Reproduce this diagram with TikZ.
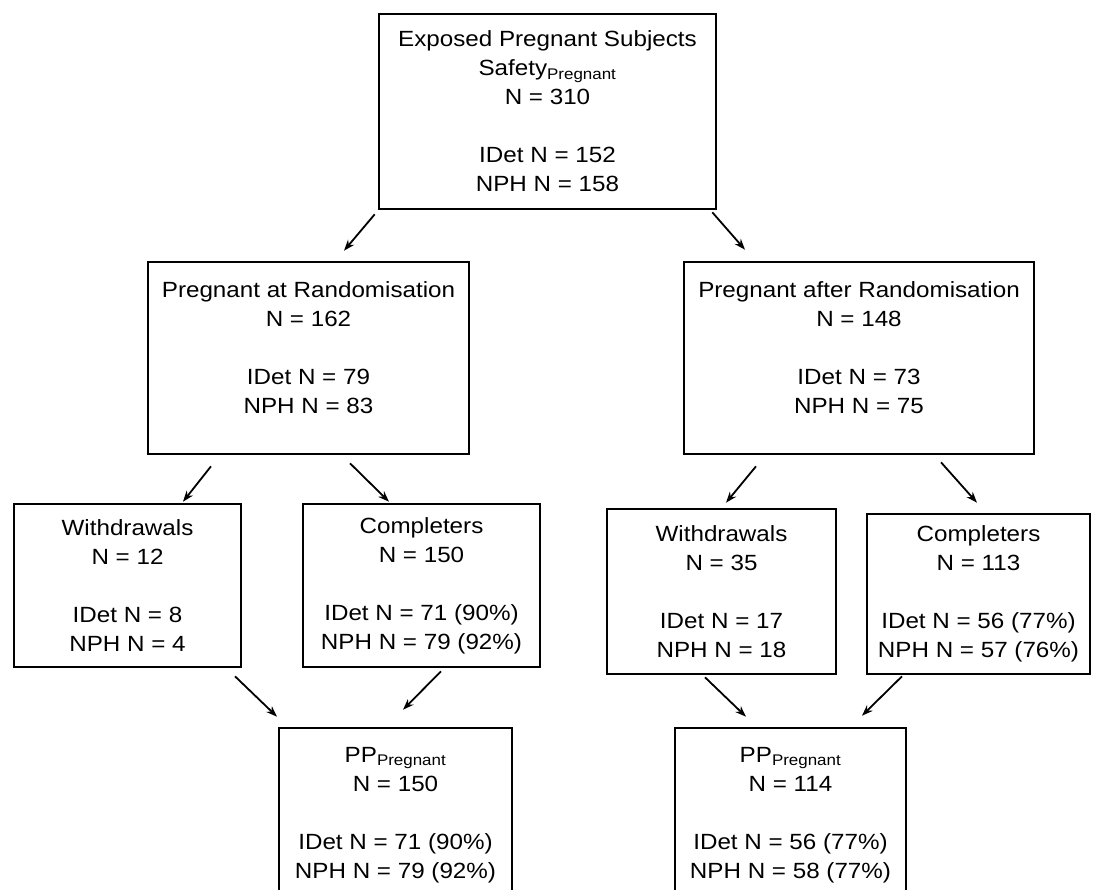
\documentclass[tikz,border=0pt]{standalone}
\usepackage{fontspec}
\setmainfont[FakeStretch=1.1]{Liberation Sans}
\usetikzlibrary{arrows.meta}

\begin{document}
\begin{tikzpicture}[x=1pt,y=-1pt,
box/.style={draw,line width=2.6pt,align=center,inner sep=0pt,font=\fontsize{22}{29}\selectfont},
arr/.style={-{Stealth[length=11pt,width=8pt]},line width=1.8pt}]
\useasboundingbox(0,0)rectangle(1097,889);
\clip(0,0)rectangle(1097,889);
% boxes
\node[box,minimum width=337pt,minimum height=195pt](top)at(547.5,111.5){Exposed Pregnant Subjects\\Safety\textsubscript{Pregnant}\\N = 310\\[29pt]IDet N = 152\\NPH N = 158};
\node[box,minimum width=321pt,minimum height=192pt](midl)at(308.5,358){Pregnant at Randomisation\\N = 162\\[29pt]IDet N = 79\\NPH N = 83\\[-9pt]\mbox{}};
\node[box,minimum width=350pt,minimum height=192pt](midr)at(859,358){Pregnant after Randomisation\\N = 148\\[29pt]IDet N = 73\\NPH N = 75\\[-9pt]\mbox{}};
\node[box,minimum width=227pt,minimum height=163pt](wdl)at(127.5,585.5){Withdrawals\\N = 12\\[29pt]IDet N = 8\\NPH N = 4};
\node[box,minimum width=237pt,minimum height=163pt](cpl)at(421.5,585.5){Completers\\N = 150\\[29pt]IDet N = 71 (90\%)\\NPH N = 79 (92\%)};
\node[box,minimum width=229pt,minimum height=165pt](wdr)at(721.5,591.5){Withdrawals\\N = 35\\[29pt]IDet N = 17\\NPH N = 18};
\node[box,minimum width=223pt,minimum height=160pt](cpr)at(978.5,594){Completers\\N = 113\\[29pt]IDet N = 56 (77\%)\\NPH N = 57 (76\%)};
\node[box,minimum width=233pt,minimum height=174pt](ppl)at(395.5,815){PP\textsubscript{Pregnant}\\N = 150\\[29pt]IDet N = 71 (90\%)\\NPH N = 79 (92\%)};
\node[box,minimum width=231pt,minimum height=174pt](ppr)at(790.5,815){PP\textsubscript{Pregnant}\\N = 114\\[29pt]IDet N = 56 (77\%)\\NPH N = 58 (77\%)};
% arrows
\draw[arr]([xshift=-3pt,yshift=-4pt]top.south west)--([xshift=35.5pt,yshift=10pt]midl.north);
\draw[arr]([xshift=-5pt,yshift=-2pt]top.south east)--([xshift=-114pt,yshift=11pt]midr.north);
\draw[arr]([xshift=-97.5pt,yshift=-11pt]midl.south)--([xshift=55.5pt,yshift=1pt]wdl.north);
\draw[arr]([xshift=41.5pt,yshift=-8pt]midl.south)--([xshift=-32.5pt,yshift=1pt]cpl.north);
\draw[arr]([xshift=-103pt,yshift=-11pt]midr.south)--([xshift=4.5pt,yshift=5pt]wdr.north);
\draw[arr]([xshift=82pt,yshift=-7pt]midr.south)--([xshift=-1.5pt,yshift=10pt]cpr.north);
\draw[arr]([xshift=107.5pt,yshift=-8pt]wdl.south)--([xshift=-118.5pt,yshift=10pt]ppl.north);
\draw[arr]([xshift=19.5pt,yshift=-3pt]cpl.south)--([xshift=7.5pt,yshift=17pt]ppl.north);
\draw[arr]([xshift=-16.5pt,yshift=-2pt]wdr.south)--([xshift=-44.5pt,yshift=10pt]ppr.north);
\draw[arr]([xshift=-76.5pt,yshift=-1pt]cpr.south)--([xshift=71.5pt,yshift=11pt]ppr.north);
\end{tikzpicture}
\end{document}
